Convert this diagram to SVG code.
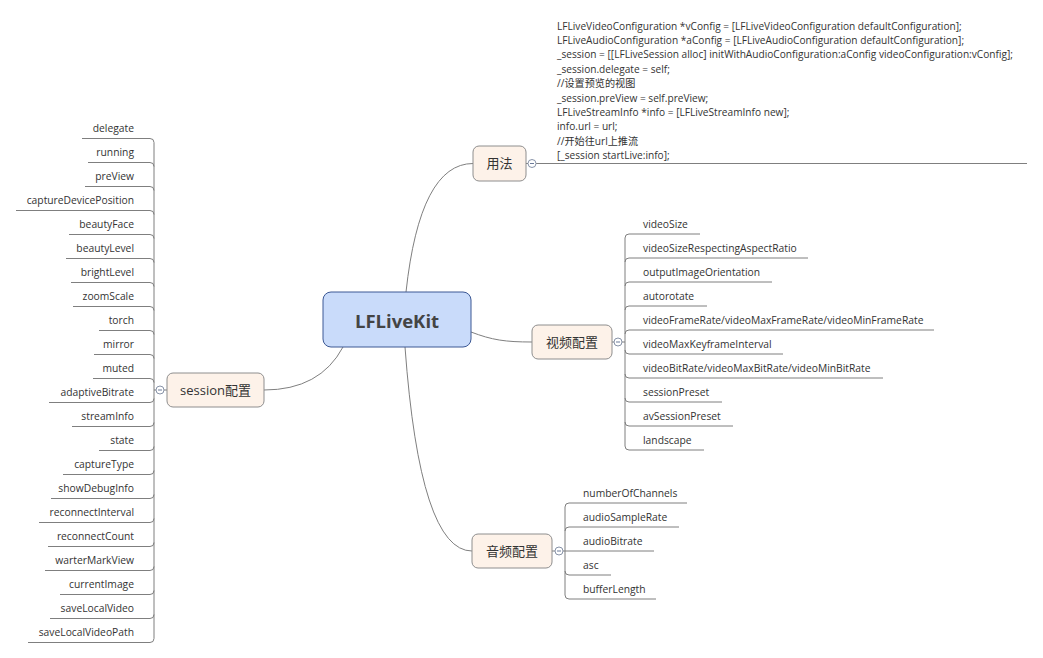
<svg xmlns="http://www.w3.org/2000/svg" width="1043" height="658" viewBox="0 0 1043 658">
<style>
.t{font-family:"Open Sans","Noto Sans CJK SC",sans-serif;font-size:10.3px;fill:#333}
.tr{text-anchor:end}
.code{font-family:"Open Sans","Noto Sans CJK SC",sans-serif;font-size:10.15px;fill:#333}
.nt{font-family:"Open Sans","Noto Sans CJK SC",sans-serif;font-size:13px;fill:#333;text-anchor:middle}
.node{fill:#fdf2e9;stroke:#8e8e8e;stroke-width:1}
.c{fill:none;stroke:#7f7f7f;stroke-width:1}
.col{fill:#fff;stroke:#8893a8;stroke-width:1}
.minus{stroke:#6b7a99;stroke-width:1}
</style>
<rect width="1043" height="658" fill="#fff"/>
<g id="connectors">
<path class="c" d="M406 292 Q420 163.5 473 163.5"/>
<path class="c" d="M471 332 C492 340 505 342 532 342"/>
<path class="c" d="M343 347 Q320 390 264 390"/>
<path class="c" d="M405 347 Q420 551 472 551"/>
<path class="c" d="M526 163.5 H528 M536 163.5 H1027"/>
<path class="c" d="M612 342 H614 M622 342 H625"/>
<path class="c" d="M164 390 H167 M154 390 H156"/>
<path class="c" d="M552 551 H555 M563 551 H565"/>
<path class="c" d="M154 142.5 V638.5"/>
<path class="c" d="M82 138.5 H150 Q154 138.5 154 142.5"/>
<path class="c" d="M88 162.5 H150 Q154 162.5 154 166.5"/>
<path class="c" d="M85 186.5 H150 Q154 186.5 154 190.5"/>
<path class="c" d="M16 210.5 H150 Q154 210.5 154 214.5"/>
<path class="c" d="M69 234.5 H150 Q154 234.5 154 238.5"/>
<path class="c" d="M66 258.5 H150 Q154 258.5 154 262.5"/>
<path class="c" d="M71 282.5 H150 Q154 282.5 154 286.5"/>
<path class="c" d="M73 306.5 H150 Q154 306.5 154 310.5"/>
<path class="c" d="M99 330.5 H150 Q154 330.5 154 334.5"/>
<path class="c" d="M94 354.5 H150 Q154 354.5 154 358.5"/>
<path class="c" d="M93 378.5 H150 Q154 378.5 154 382.5"/>
<path class="c" d="M49 402.5 H150 Q154 402.5 154 398.5"/>
<path class="c" d="M72 426.5 H150 Q154 426.5 154 422.5"/>
<path class="c" d="M99 450.5 H150 Q154 450.5 154 446.5"/>
<path class="c" d="M63 474.5 H150 Q154 474.5 154 470.5"/>
<path class="c" d="M51 498.5 H150 Q154 498.5 154 494.5"/>
<path class="c" d="M39 522.5 H150 Q154 522.5 154 518.5"/>
<path class="c" d="M48 546.5 H150 Q154 546.5 154 542.5"/>
<path class="c" d="M45 570.5 H150 Q154 570.5 154 566.5"/>
<path class="c" d="M60 594.5 H150 Q154 594.5 154 590.5"/>
<path class="c" d="M50 618.5 H150 Q154 618.5 154 614.5"/>
<path class="c" d="M28 642.5 H150 Q154 642.5 154 638.5"/>
<path class="c" d="M625 238 V446"/>
<path class="c" d="M625 238 Q625 234 629 234 H700"/>
<path class="c" d="M625 262 Q625 258 629 258 H808"/>
<path class="c" d="M625 286 Q625 282 629 282 H772"/>
<path class="c" d="M625 310 Q625 306 629 306 H707"/>
<path class="c" d="M625 334 Q625 330 629 330 H934"/>
<path class="c" d="M625 350 Q625 354 629 354 H783"/>
<path class="c" d="M625 374 Q625 378 629 378 H883"/>
<path class="c" d="M625 398 Q625 402 629 402 H722"/>
<path class="c" d="M625 422 Q625 426 629 426 H733"/>
<path class="c" d="M625 446 Q625 450 629 450 H704"/>
<path class="c" d="M565 507 V595"/>
<path class="c" d="M565 507 Q565 503 569 503 H687"/>
<path class="c" d="M565 531 Q565 527 569 527 H679"/>
<path class="c" d="M565 551 H654"/>
<path class="c" d="M565 571 Q565 575 569 575 H611"/>
<path class="c" d="M565 595 Q565 599 569 599 H656"/>
</g>
<g id="root">
<rect x="323" y="292" width="148" height="55" rx="8" fill="#c9dbfa" stroke="#3c5894" stroke-width="1"/>
<text x="397" y="327.5" text-anchor="middle" font-family="'Open Sans','Noto Sans',sans-serif" font-size="18.5" font-weight="bold" fill="#444">LFLiveKit</text>
</g>
<g id="usage">
<rect class="node" x="473" y="146" width="53" height="35" rx="6"/>
<text class="nt" x="499.5" y="168">用法</text>
<circle class="col" cx="532" cy="163.5" r="4"/>
<path class="minus" d="M530 163.5 H534"/>
<g id="usage-code">
<text class="code" x="557" y="29.5">LFLiveVideoConfiguration *vConfig = [LFLiveVideoConfiguration defaultConfiguration];</text>
<text class="code" x="557" y="43.9">LFLiveAudioConfiguration *aConfig = [LFLiveAudioConfiguration defaultConfiguration];</text>
<text class="code" x="557" y="58.3">_session = [[LFLiveSession alloc] initWithAudioConfiguration:aConfig videoConfiguration:vConfig];</text>
<text class="code" x="557" y="72.7">_session.delegate = self;</text>
<text class="code" x="557" y="87.1">//设置预览的视图</text>
<text class="code" x="557" y="101.5">_session.preView = self.preView;</text>
<text class="code" x="557" y="115.9">LFLiveStreamInfo *info = [LFLiveStreamInfo new];</text>
<text class="code" x="557" y="130.3">info.url = url;</text>
<text class="code" x="557" y="144.7">//开始往url上推流</text>
<text class="code" x="557" y="159.1">[_session startLive:info];</text>
</g>
</g>
<g id="video">
<rect class="node" x="532" y="325" width="80" height="34" rx="6"/>
<text class="nt" x="572" y="346.5">视频配置</text>
<circle class="col" cx="618" cy="342" r="4"/>
<path class="minus" d="M616 342 H620"/>
<g id="video-items">
<text class="t" x="643" y="228">videoSize</text>
<text class="t" x="643" y="252">videoSizeRespectingAspectRatio</text>
<text class="t" x="643" y="276">outputImageOrientation</text>
<text class="t" x="643" y="300">autorotate</text>
<text class="t" x="643" y="324">videoFrameRate/videoMaxFrameRate/videoMinFrameRate</text>
<text class="t" x="643" y="348">videoMaxKeyframeInterval</text>
<text class="t" x="643" y="372">videoBitRate/videoMaxBitRate/videoMinBitRate</text>
<text class="t" x="643" y="396">sessionPreset</text>
<text class="t" x="643" y="420">avSessionPreset</text>
<text class="t" x="643" y="444">landscape</text>
</g>
</g>
<g id="audio">
<rect class="node" x="472" y="534" width="80" height="34" rx="6"/>
<text class="nt" x="512" y="555.5">音频配置</text>
<circle class="col" cx="559" cy="551" r="4"/>
<path class="minus" d="M557 551 H561"/>
<g id="audio-items">
<text class="t" x="583" y="497">numberOfChannels</text>
<text class="t" x="583" y="521">audioSampleRate</text>
<text class="t" x="583" y="545">audioBitrate</text>
<text class="t" x="583" y="569">asc</text>
<text class="t" x="583" y="593">bufferLength</text>
</g>
</g>
<g id="session">
<rect class="node" x="167" y="373" width="97" height="34" rx="6"/>
<text class="nt" x="215.5" y="394.5">session配置</text>
<circle class="col" cx="160" cy="390" r="4"/>
<path class="minus" d="M158 390 H162"/>
<g id="session-items">
<text class="t tr" x="134" y="132">delegate</text>
<text class="t tr" x="134" y="156">running</text>
<text class="t tr" x="134" y="180">preView</text>
<text class="t tr" x="134" y="204">captureDevicePosition</text>
<text class="t tr" x="134" y="228">beautyFace</text>
<text class="t tr" x="134" y="252">beautyLevel</text>
<text class="t tr" x="134" y="276">brightLevel</text>
<text class="t tr" x="134" y="300">zoomScale</text>
<text class="t tr" x="134" y="324">torch</text>
<text class="t tr" x="134" y="348">mirror</text>
<text class="t tr" x="134" y="372">muted</text>
<text class="t tr" x="134" y="396">adaptiveBitrate</text>
<text class="t tr" x="134" y="420">streamInfo</text>
<text class="t tr" x="134" y="444">state</text>
<text class="t tr" x="134" y="468">captureType</text>
<text class="t tr" x="134" y="492">showDebugInfo</text>
<text class="t tr" x="134" y="516">reconnectInterval</text>
<text class="t tr" x="134" y="540">reconnectCount</text>
<text class="t tr" x="134" y="564">warterMarkView</text>
<text class="t tr" x="134" y="588">currentImage</text>
<text class="t tr" x="134" y="612">saveLocalVideo</text>
<text class="t tr" x="134" y="636">saveLocalVideoPath</text>
</g>
</g>
</svg>
